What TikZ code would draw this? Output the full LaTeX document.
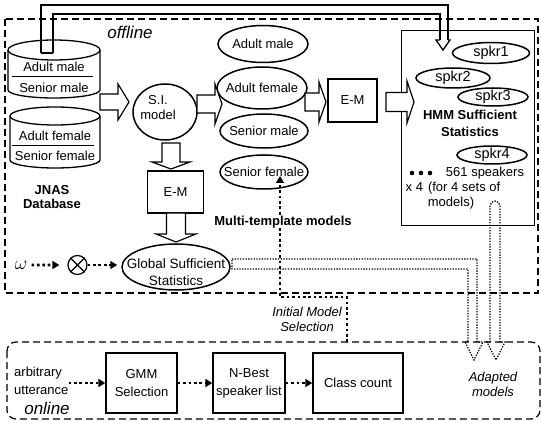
\documentclass[tikz,border=0pt]{standalone}
\usepackage{fontspec}
\setmainfont{Liberation Sans}
\usetikzlibrary{shapes.geometric,arrows.meta,calc}
% horizontal block arrow: x-tail, x-tip, y-centre, shaft half width, head half width, x of head base
\newcommand\blkH[6]{\draw[blk] (#1,#3-#4) -- (#6,#3-#4) -- (#6,#3-#5) -- (#2,#3) -- (#6,#3+#5) -- (#6,#3+#4) -- (#1,#3+#4) -- cycle;}
% vertical block arrow: x-centre, y-tail, y-tip, shaft half width, head half width, y of head base
\newcommand\blkV[6]{\draw[blk] (#1-#4,#2) -- (#1-#4,#6) -- (#1-#5,#6) -- (#1,#3) -- (#1+#5,#6) -- (#1+#4,#6) -- (#1+#4,#2) -- cycle;}
\begin{document}
\begin{tikzpicture}[x=1pt,y=-1pt,
  every node/.style={font=\fontsize{13}{15}\selectfont, align=center, inner sep=0pt},
  ell/.style={ellipse, draw, line width=1.5pt, inner sep=-30pt},
  sbox/.style={draw, line width=1.4pt},
  blk/.style={draw, line width=1.2pt, fill=white, line join=miter},
  frame/.style={line width=1.2pt, dash pattern=on 7pt off 4pt},
  tdot/.style={line width=2.7pt, dash pattern=on 2.7pt off 2.7pt, -{Triangle[length=7pt,width=8pt]}},
  ldot/.style={line width=1.3pt, dash pattern=on 1.3pt off 1.4pt},
  conn/.style={line width=1.3pt},
  bold/.style={font=\bfseries\fontsize{13}{17}\selectfont},
  ital/.style={font=\itshape\fontsize{13}{15}\selectfont},
  big/.style={font=\itshape\fontsize{17}{20}\selectfont}]
\useasboundingbox (0,0) rectangle (541,422);

% frames
\draw[frame] (5,19) rectangle (538,293);
\draw[frame, rounded corners=9pt] (7,342) rectangle (540,419);
\node[big] (offl) at (130,32) {offline};
\node[big] (onl) at (47,408) {online};

% database cylinders
\coordinate (cylA) at (54,50);
\coordinate (cylB) at (55,116);
\draw[conn] (8,50) -- (8,90) arc[start angle=180, end angle=360, x radius=46pt, y radius=8pt] -- (100,50);
\draw[conn] (cylA) ellipse [x radius=46pt, y radius=10pt];
\draw[conn] (10,116) -- (10,160) arc[start angle=180, end angle=360, x radius=45pt, y radius=8pt] -- (100,116);
\draw[conn] (cylB) ellipse [x radius=45pt, y radius=9pt];
\node (c1a) at (54,67) {Adult male};
\draw[line width=0.9pt] (12,76) -- (93,76);
\node (c1b) at (54,88) {Senior male};
\node (c2a) at (55,136) {Adult female};
\draw[line width=0.9pt] (12,145) -- (94,145);
\node (c2b) at (55,156) {Senior female};
\node[bold, font=\bfseries\fontsize{13}{14}\selectfont] (jnas) at (52,197) {JNAS\\Database};

% pipe from the database to the HMM statistics
\coordinate (pA1) at (41,53);
\coordinate (pA2) at (53,53);
\draw[conn] (pA1) -- (41,5) -- (448,5) -- (448,40);
\draw[conn] (pA2) -- (53,14) -- (440,14) -- (440,40);
\draw[line width=2pt] (pA1) -- (pA2);
\draw[conn, line join=miter] (440,40) -- (436,40) -- (443,50) -- (450,40) -- (448,40);

% S.I. model and the multi-template models
\node[ell, minimum width=64, minimum height=56] (si) at (165,112) {};
\node (silbl) at (158,108) {S.I.\\model};
\node[ell, minimum width=90, minimum height=37] (am) at (263,44) {Adult male};
\node[ell, minimum width=90, minimum height=42] (af) at (262,88) {Adult female};
\node[ell, minimum width=88, minimum height=34] (sm) at (264,131) {Senior male};
\node[ell, minimum width=88, minimum height=34] (sf) at (264,172) {Senior female};

\node[sbox, minimum width=56, minimum height=42] (em1) at (175.5,192) {E-M};
\node[sbox, minimum width=49, minimum height=43] (em2) at (352.5,100.5) {E-M};

\node[ell, minimum width=108, minimum height=46] (gss) at (176,267) {};
\node[font=\fontsize{13.5}{17}\selectfont] (gsslbl) at (176,272) {Global Sufficient\\Statistics};

% HMM sufficient statistics box
\node[draw, line width=0.9pt, minimum width=133, minimum height=195] (hmm) at (467.5,127.5) {};
\node[ell, font=\fontsize{14.5}{16}\selectfont, minimum width=77, minimum height=21] (s1) at (491,53) {spkr1};
\node[ell, font=\fontsize{14.5}{16}\selectfont, minimum width=74, minimum height=20] (s2) at (453,78) {spkr2};
\node[ell, font=\fontsize{14.5}{16}\selectfont, minimum width=70, minimum height=18] (s3) at (493,97) {spkr3};
\node[ell, font=\fontsize{14.5}{16}\selectfont, minimum width=70, minimum height=18] (s4) at (492,155) {spkr4};
\node[bold] (hmmlbl) at (470,123) {HMM Sufficient\\Statistics};
\fill (412,173) circle (2.3pt) (421,173) circle (2.3pt) (430,173) circle (2.3pt);
\node (n561) at (485,173) {561 speakers};
\node (x4) at (453,188) {x 4\hspace{5pt}(for 4 sets of};
\node (mdl) at (451,203) {models)};

% block arrows
\blkH{100}{129}{102}{8}{18}{118}
\blkH{197}{222}{104}{9}{20}{215}
\blkH{305}{326}{102}{9}{20}{319}
\blkH{386}{414}{102}{9.5}{21}{407}
\blkV{171}{143}{169}{9}{19}{162}
\blkV{176}{213}{242}{9.5}{20}{234}

% dotted pipes to the adapted models
\draw[ldot, line join=miter] (232,259) -- (477,259) -- (477,342) -- (483,342) -- (474,360) -- (465,342) -- (468,342) -- (468,269) -- (232,269) -- cycle;
\draw[ldot, line join=miter] (490,342) -- (490,206) arc[start angle=180, end angle=0, radius=5pt] -- (500,342) -- (505,342) -- (496,360) -- (487,342) -- cycle;

% initial model selection
\draw[tdot] (347,342) -- (347,297) -- (280,297) -- (280,176);
\node[bold, fill=white] (mtm) at (283,222) {Multi-template models};
\node[ital] (ims) at (307,319) {Initial Model\\Selection};

% omega and product
\node[scale=1.6] (om) at (21,265) {$\omega$};
\node[circle, draw, line width=1.2pt, minimum size=19pt, inner sep=0pt] (ot) at (77.5,265) {};
\draw[line width=1.2pt] (ot.north west) -- (ot.south east) (ot.north east) -- (ot.south west);
\draw[tdot, shorten <=4pt, shorten >=8pt] (om) -- (ot);
\draw[tdot, shorten >=4pt] (ot) -- (ot -| gss.west);

% online part
\node[align=left, anchor=west, font=\fontsize{13}{18}\selectfont] (arb) at (14,381) {arbitrary\\utterance};
\node[sbox, minimum width=71, minimum height=60, font=\fontsize{13}{18}\selectfont] (gmm) at (141.5,383) {GMM\\Selection};
\node[sbox, minimum width=72, minimum height=60, font=\fontsize{13}{18}\selectfont] (nb) at (249,383) {N-Best\\speaker list};
\node[sbox, minimum width=90, minimum height=60] (cc) at (358,383) {Class count};
\node[ital] (adapt) at (493,384) {Adapted\\models};
\draw[tdot] (arb.east |- gmm.west) -- (gmm.west);
\draw[tdot] (gmm) -- (nb);
\draw[tdot] (nb) -- (cc);
\end{tikzpicture}
\end{document}
